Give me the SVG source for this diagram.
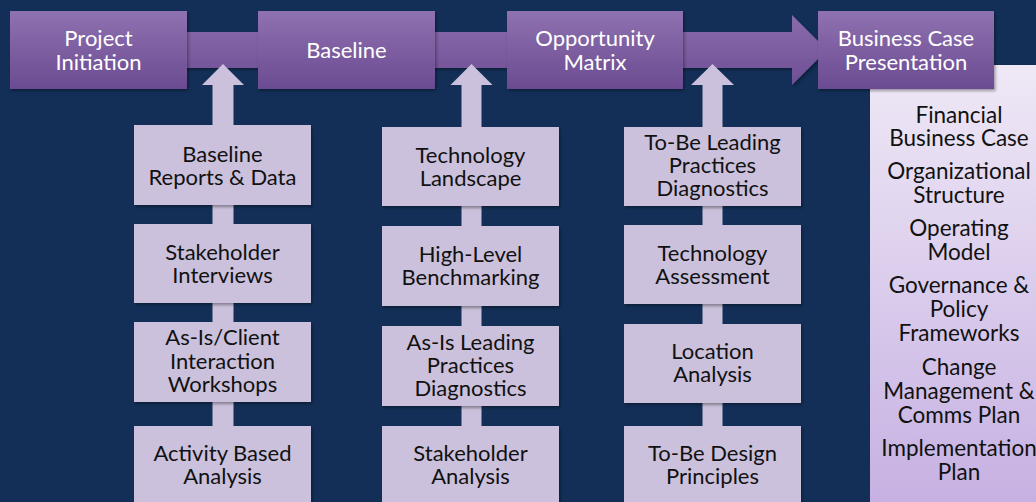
<svg xmlns="http://www.w3.org/2000/svg" width="1036" height="502" viewBox="0 0 1036 502">
<defs>
<linearGradient id="gTop" x1="0" y1="0" x2="0" y2="1">
<stop offset="0" stop-color="#8f72b1"/>
<stop offset="1" stop-color="#6b4b91"/>
</linearGradient>
<linearGradient id="gBar" x1="0" y1="0" x2="0" y2="1">
<stop offset="0" stop-color="#8a6cad"/>
<stop offset="1" stop-color="#6f4f95"/>
</linearGradient>
<linearGradient id="gPanel" x1="0" y1="0" x2="0" y2="1">
<stop offset="0" stop-color="#efe9f6"/>
<stop offset="1" stop-color="#c6b0e2"/>
</linearGradient>
<filter id="sh" x="-10%" y="-10%" width="130%" height="130%">
<feDropShadow dx="1.5" dy="2" stdDeviation="1.5" flood-color="#000" flood-opacity="0.35"/>
</filter>
</defs>
<style>
.top{fill:url(#gTop);filter:url(#sh)}
.box{fill:#cbc1dc;filter:url(#sh)}
.conn{fill:#cbc1dc}
.tw{font-family:Lato,"Liberation Sans",sans-serif;font-size:22px;fill:#ffffff;text-anchor:middle}
.tb{font-family:Lato,"Liberation Sans",sans-serif;font-size:22px;fill:#111111;text-anchor:middle}
.tp{font-family:Lato,"Liberation Sans",sans-serif;font-size:22.5px;fill:#111111;text-anchor:middle}
</style>
<rect x="0" y="0" width="1036" height="502" fill="#132f57"/>

<g id="connectors">
<path d="M180 32 H792 V15 L827 50 L792 85 V68 H180 Z" fill="url(#gBar)" filter="url(#sh)"/>
<path class="conn" d="M212.5 500 V85 H202 L223 64 L244 85 H233.5 V500 Z"/>
<path class="conn" d="M461.5 500 V85 H450.5 L471.5 64 L492.5 85 H481.5 V500 Z"/>
<path class="conn" d="M702.5 500 V85 H691 L712.5 64 L734 85 H722.5 V500 Z"/>
</g>

<g id="panel-business-case">
<rect x="870" y="65" width="170" height="440" fill="url(#gPanel)" filter="url(#sh)"/>
<text class="tp" x="959" y="123">Financial</text>
<text class="tp" x="959" y="146">Business Case</text>
<text class="tp" x="959" y="179">Organizational</text>
<text class="tp" x="959" y="203">Structure</text>
<text class="tp" x="959" y="236">Operating</text>
<text class="tp" x="959" y="260">Model</text>
<text class="tp" x="959" y="293">Governance &amp;</text>
<text class="tp" x="959" y="317">Policy</text>
<text class="tp" x="959" y="341">Frameworks</text>
<text class="tp" x="959" y="375">Change</text>
<text class="tp" x="959" y="399">Management &amp;</text>
<text class="tp" x="959" y="423">Comms Plan</text>
<text class="tp" x="959" y="456">Implementation</text>
<text class="tp" x="959" y="480">Plan</text>
</g>

<g id="project-initiation">
<rect class="top" x="10" y="11" width="177" height="78"/>
<text class="tw" x="98.5" y="46">Project</text>
<text class="tw" x="98.5" y="70">Initiation</text>
</g>
<g id="baseline">
<rect class="top" x="258" y="11" width="177" height="78"/>
<text class="tw" x="346.5" y="58">Baseline</text>
</g>
<g id="opportunity-matrix">
<rect class="top" x="507" y="11" width="176" height="78"/>
<text class="tw" x="595" y="46">Opportunity</text>
<text class="tw" x="595" y="70">Matrix</text>
</g>
<g id="business-case-presentation">
<rect class="top" x="818" y="11" width="176" height="78"/>
<text class="tw" x="906" y="46">Business Case</text>
<text class="tw" x="906" y="70">Presentation</text>
</g>

<g id="baseline-reports">
<rect class="box" x="134" y="125" width="177" height="80"/>
<text class="tb" x="222.5" y="162">Baseline</text>
<text class="tb" x="222.5" y="185">Reports &amp; Data</text>
</g>
<g id="stakeholder-interviews">
<rect class="box" x="134" y="224" width="177" height="79"/>
<text class="tb" x="222.5" y="260">Stakeholder</text>
<text class="tb" x="222.5" y="283">Interviews</text>
</g>
<g id="as-is-client">
<rect class="box" x="134" y="322" width="177" height="80"/>
<text class="tb" x="222.5" y="345">As-Is/Client</text>
<text class="tb" x="222.5" y="368.5">Interaction</text>
<text class="tb" x="222.5" y="392">Workshops</text>
</g>
<g id="activity-based">
<rect class="box" x="134" y="426" width="177" height="82"/>
<text class="tb" x="222.5" y="461">Activity Based</text>
<text class="tb" x="222.5" y="484">Analysis</text>
</g>

<g id="technology-landscape">
<rect class="box" x="382" y="127" width="177" height="79"/>
<text class="tb" x="470.5" y="163">Technology</text>
<text class="tb" x="470.5" y="186">Landscape</text>
</g>
<g id="high-level-benchmarking">
<rect class="box" x="382" y="226" width="177" height="80"/>
<text class="tb" x="470.5" y="262">High-Level</text>
<text class="tb" x="470.5" y="285">Benchmarking</text>
</g>
<g id="as-is-leading">
<rect class="box" x="382" y="326" width="177" height="80"/>
<text class="tb" x="470.5" y="350">As-Is Leading</text>
<text class="tb" x="470.5" y="373">Practices</text>
<text class="tb" x="470.5" y="396">Diagnostics</text>
</g>
<g id="stakeholder-analysis">
<rect class="box" x="382" y="426" width="177" height="82"/>
<text class="tb" x="470.5" y="461">Stakeholder</text>
<text class="tb" x="470.5" y="484">Analysis</text>
</g>

<g id="to-be-leading">
<rect class="box" x="624" y="127" width="177" height="79"/>
<text class="tb" x="712.5" y="150">To-Be Leading</text>
<text class="tb" x="712.5" y="173">Practices</text>
<text class="tb" x="712.5" y="196">Diagnostics</text>
</g>
<g id="technology-assessment">
<rect class="box" x="624" y="225" width="177" height="79"/>
<text class="tb" x="712.5" y="261">Technology</text>
<text class="tb" x="712.5" y="284">Assessment</text>
</g>
<g id="location-analysis">
<rect class="box" x="624" y="324" width="177" height="79"/>
<text class="tb" x="712.5" y="359">Location</text>
<text class="tb" x="712.5" y="382">Analysis</text>
</g>
<g id="to-be-design">
<rect class="box" x="624" y="426" width="177" height="82"/>
<text class="tb" x="712.5" y="461">To-Be Design</text>
<text class="tb" x="712.5" y="484">Principles</text>
</g>
</svg>
